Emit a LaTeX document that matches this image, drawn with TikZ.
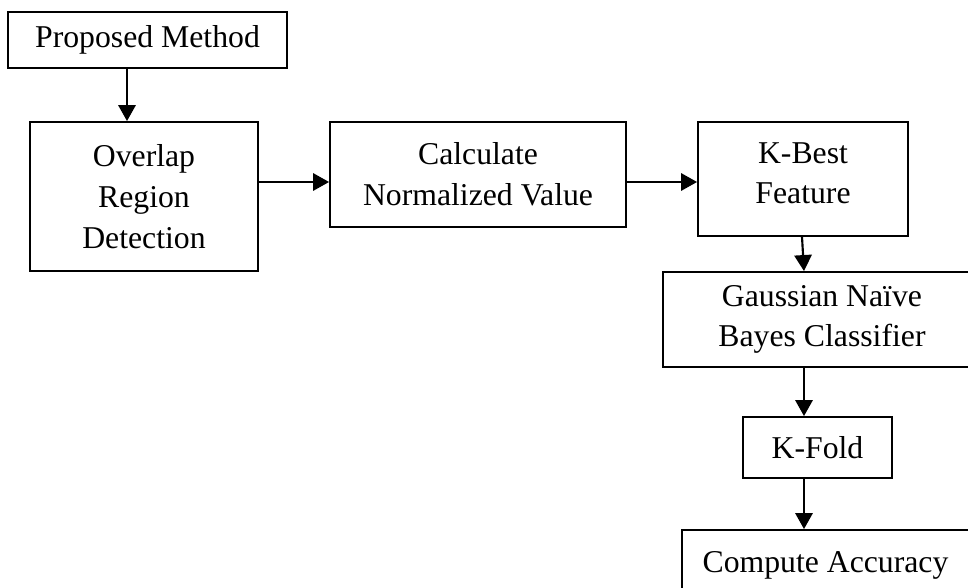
\documentclass[tikz,border=0pt]{standalone}
\usepackage{fontspec}
\setmainfont{Liberation Serif}
\usetikzlibrary{arrows.meta}

\begin{document}
\begin{tikzpicture}[x=0.75pt, y=-0.75pt,
            every node/.style={draw, line width=1.4pt, inner sep=0pt, align=center,
                font=\fontsize{23.8}{30.5}\selectfont},
            flow/.style={-{Triangle[length=12pt, width=13pt]}, line width=1.6pt},
            ]
            \useasboundingbox (0,0) rectangle (968,588);
            \clip (0,0) rectangle (968,588);

            \node[minimum width=209.25pt, minimum height=42pt] (prop) at (147.5,40) {Proposed Method};
            \node[minimum width=171pt, minimum height=111.75pt] (ov) at (144,196.5) {Overlap\\Region\\Detection};
            \node[minimum width=222pt, minimum height=78.75pt] (calc) at (478,174.5) {Calculate\\Normalized Value};
            \node[minimum width=157.5pt, minimum height=85.5pt, text depth=9pt] (kb) at (803,179) {K-Best\\Feature};
            \node[minimum width=238.5pt, minimum height=71.25pt] (gnb) at (822,319.5) {Gaussian Na\"ive\\Bayes Classifier};
            \node[minimum width=111.75pt, minimum height=45.75pt] (kf) at (817.5,447.5) {K-Fold};
            \node[minimum width=215.25pt, minimum height=52.5pt] (acc) at (825.5,565) {Compute Accuracy};

            % connectors
            \draw[flow] (prop.south -| 127,0) -- (ov.north -| 127,0);
            \draw[flow] (ov.east |- 0,182) -- (calc.west |- 0,182);
            \draw[flow] (calc.east |- 0,182) -- (kb.west |- 0,182);
            \draw[flow] (kb.south -| 802,0) -- (gnb.north -| 804,0);
            \draw[flow] (gnb.south -| 804,0) -- (kf.north -| 804,0);
            \draw[flow] (kf.south -| 804,0) -- (acc.north -| 804,0);
\end{tikzpicture}
\end{document}
